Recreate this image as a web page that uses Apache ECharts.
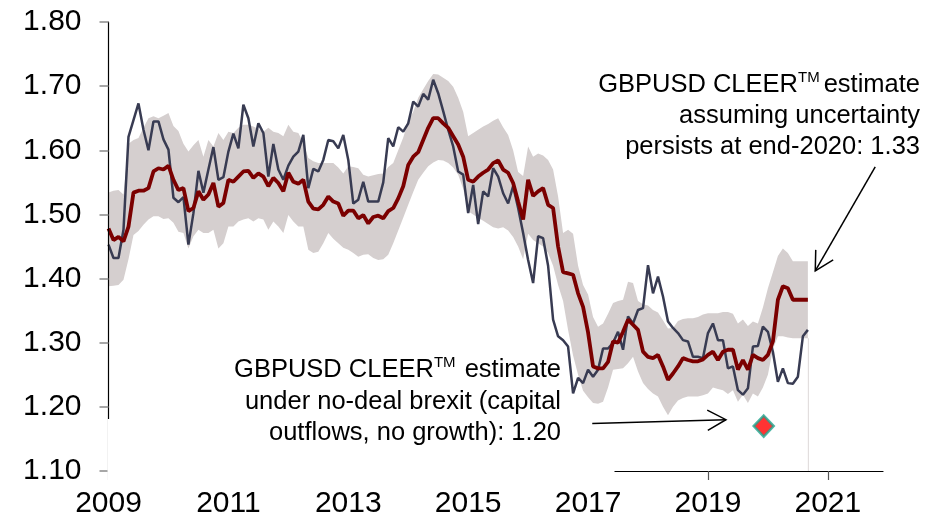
<!DOCTYPE html>
<html>
<head>
<meta charset="utf-8">
<script src="https://cdn.jsdelivr.net/npm/echarts@6/dist/echarts.min.js"></script>
<style>
html,body{margin:0;padding:0;background:#fff}
#main{width:944px;height:523px}
</style>
</head>
<body>
<div id="main"></div>
<script>
// monthly points, Jan 2009 .. Sep 2020
var startYear = 2009;

// GBPUSD spot
var spot = [
  1.453,1.432,1.432,1.476,1.621,1.647,1.673,1.632,1.600,1.645,
  1.645,1.617,1.601,1.526,1.519,1.527,1.453,1.502,1.568,1.534,
  1.570,1.605,1.554,1.558,1.598,1.626,1.603,1.671,1.650,1.606,
  1.642,1.627,1.559,1.610,1.570,1.554,1.576,1.590,1.598,1.624,
  1.541,1.571,1.567,1.585,1.616,1.614,1.603,1.624,1.585,1.517,
  1.523,1.551,1.520,1.520,1.520,1.550,1.619,1.606,1.636,1.629,
  1.642,1.676,1.668,1.688,1.679,1.710,1.689,1.661,1.632,1.606,
  1.567,1.562,1.502,1.546,1.485,1.536,1.528,1.572,1.559,1.533,
  1.517,1.544,1.510,1.471,1.429,1.393,1.466,1.463,1.420,1.336,
  1.310,1.304,1.294,1.221,1.245,1.237,1.258,1.247,1.258,1.291,
  1.291,1.300,1.317,1.289,1.341,1.330,1.351,1.354,1.421,1.377,
  1.403,1.372,1.333,1.323,1.315,1.304,1.302,1.278,1.278,1.276,
  1.315,1.330,1.304,1.304,1.260,1.263,1.226,1.219,1.229,1.294,
  1.295,1.325,1.317,1.286,1.239,1.260,1.237,1.236,1.247,1.310,
  1.320
];

// CLEER estimate
var cleer = [
  1.478,1.460,1.465,1.458,1.481,1.534,1.537,1.537,1.541,1.567,
  1.572,1.570,1.576,1.554,1.538,1.541,1.505,1.510,1.536,1.523,
  1.531,1.549,1.512,1.518,1.554,1.551,1.559,1.567,1.568,1.557,
  1.564,1.559,1.544,1.557,1.549,1.536,1.565,1.551,1.548,1.554,
  1.520,1.509,1.508,1.515,1.528,1.520,1.517,1.498,1.506,1.506,
  1.494,1.499,1.486,1.496,1.498,1.494,1.505,1.510,1.525,1.544,
  1.577,1.590,1.597,1.616,1.635,1.650,1.650,1.642,1.635,1.622,
  1.609,1.590,1.554,1.551,1.559,1.565,1.570,1.580,1.584,1.570,
  1.565,1.549,1.520,1.492,1.554,1.529,1.536,1.541,1.515,1.510,
  1.450,1.410,1.408,1.406,1.377,1.356,1.316,1.263,1.260,1.260,
  1.270,1.302,1.300,1.317,1.336,1.328,1.320,1.286,1.278,1.276,
  1.281,1.263,1.242,1.252,1.263,1.276,1.273,1.271,1.271,1.274,
  1.281,1.286,1.273,1.286,1.289,1.289,1.258,1.273,1.258,1.281,
  1.276,1.273,1.281,1.302,1.367,1.388,1.385,1.367,1.367,1.367,
  1.367
];

// uncertainty band
var bandHigh = [
  1.534,1.537,1.538,1.531,1.610,1.616,1.619,1.635,1.650,1.653,
  1.650,1.654,1.658,1.638,1.630,1.610,1.598,1.608,1.616,1.590,
  1.616,1.606,1.627,1.616,1.629,1.627,1.635,1.640,1.640,1.637,
  1.633,1.629,1.635,1.629,1.627,1.622,1.640,1.629,1.627,1.612,
  1.588,1.583,1.580,1.580,1.580,1.580,1.573,1.564,1.575,1.574,
  1.572,1.562,1.559,1.561,1.563,1.564,1.574,1.580,1.600,1.620,
  1.645,1.660,1.682,1.695,1.708,1.719,1.718,1.713,1.708,1.699,
  1.682,1.660,1.622,1.627,1.632,1.637,1.641,1.646,1.650,1.636,
  1.624,1.600,1.566,1.560,1.606,1.590,1.595,1.592,1.585,1.570,
  1.528,1.471,1.476,1.470,1.420,1.390,1.375,1.340,1.325,1.330,
  1.345,1.362,1.365,1.367,1.395,1.393,1.365,1.360,1.358,1.351,
  1.347,1.335,1.322,1.323,1.334,1.337,1.338,1.338,1.340,1.344,
  1.346,1.346,1.346,1.348,1.348,1.345,1.330,1.336,1.326,1.333,
  1.330,1.355,1.385,1.410,1.435,1.447,1.440,1.427,1.427,1.427,
  1.427
];
var bandLow = [
  1.388,1.389,1.390,1.398,1.430,1.468,1.474,1.484,1.492,1.497,
  1.497,1.493,1.494,1.487,1.473,1.471,1.447,1.466,1.476,1.471,
  1.471,1.476,1.447,1.455,1.481,1.481,1.489,1.492,1.494,1.489,
  1.494,1.492,1.476,1.489,1.481,1.471,1.499,1.489,1.481,1.481,
  1.445,1.440,1.442,1.455,1.471,1.462,1.455,1.448,1.445,1.440,
  1.434,1.437,1.438,1.432,1.429,1.430,1.437,1.455,1.475,1.495,
  1.515,1.535,1.554,1.565,1.575,1.581,1.585,1.584,1.580,1.573,
  1.562,1.540,1.505,1.500,1.495,1.490,1.485,1.480,1.478,1.480,
  1.475,1.465,1.450,1.430,1.470,1.460,1.455,1.450,1.440,1.420,
  1.390,1.365,1.320,1.280,1.250,1.225,1.215,1.206,1.205,1.208,
  1.230,1.258,1.259,1.260,1.268,1.278,1.255,1.237,1.228,1.221,
  1.216,1.200,1.187,1.200,1.210,1.214,1.216,1.216,1.216,1.218,
  1.221,1.230,1.228,1.226,1.220,1.226,1.208,1.219,1.206,1.221,
  1.216,1.230,1.250,1.290,1.310,1.310,1.308,1.307,1.307,1.307,
  1.307
];

// no-deal brexit estimate marker
var noDeal = [2019.93, 1.17];

var xTicks = [2009, 2011, 2013, 2015, 2017, 2019, 2021];

// annotation arrows, [from, to] in data units
var arrowTop = [[2021.79, 1.574], [2020.79, 1.412]];
var arrowBottom = [[2017.07, 1.174], [2019.30, 1.180]];

var font = '"Liberation Sans", Arial, sans-serif';

function toPairs(arr) {
  return arr.map(function (v, i) { return [startYear + i / 12, v]; });
}
var lastX = startYear + (spot.length - 1) / 12;

var chart = echarts.init(document.getElementById('main'));
chart.setOption({
  animation: false,
  grid: { left: 108.5, right: 61, top: 22, bottom: 52 },
  xAxis: {
    type: 'value',
    min: 2009,
    max: 2021.92,
    z: 10,
    axisLine: { lineStyle: { color: '#000', width: 1.2 } },
    axisTick: { customValues: xTicks, length: 9, lineStyle: { color: '#555', width: 1.2 } },
    axisLabel: {
      customValues: xTicks, fontSize: 30, color: '#000', margin: 18, fontFamily: font,
      formatter: function (v) { return String(Math.round(v)); }
    },
    splitLine: { show: false }
  },
  yAxis: {
    type: 'value',
    min: 1.1,
    max: 1.8,
    interval: 0.1,
    z: 10,
    axisLine: { show: true, lineStyle: { color: '#000', width: 1.2 } },
    axisTick: { show: true, length: 9, lineStyle: { color: '#8a8a8a', width: 1.5 } },
    axisLabel: {
      fontSize: 30, color: '#000', margin: 27, fontFamily: font,
      formatter: function (v) { return v.toFixed(2); }
    },
    splitLine: { show: false }
  },
  series: [
    {
      // band top, filled down to the axis
      type: 'line', data: toPairs(bandHigh), symbol: 'none', silent: true, z: 1,
      lineStyle: { width: 0, opacity: 0 },
      areaStyle: { color: '#d5cfcf', opacity: 1, origin: 'start' }
    },
    {
      // band bottom, white fill below it
      type: 'line', data: toPairs(bandLow), symbol: 'none', silent: true, z: 2,
      lineStyle: { width: 0, opacity: 0 },
      areaStyle: { color: '#ffffff', opacity: 1, origin: 'start' }
    },
    {
      name: 'GBPUSD', type: 'line', data: toPairs(spot), symbol: 'none',
      lineStyle: { color: '#383b52', width: 2.5 }, z: 3,
      markLine: {
        silent: true, symbol: 'none', label: { show: false },
        lineStyle: { color: '#e2dede', width: 1, type: 'solid' },
        data: [[{ coord: [lastX, 1.1] }, { coord: [lastX, bandLow[bandLow.length - 1]] }]]
      }
    },
    {
      name: 'CLEER', type: 'line', data: toPairs(cleer), symbol: 'none',
      lineStyle: { color: '#7b0000', width: 3.8 }, z: 4
    },
    {
      type: 'scatter', data: [noDeal], symbol: 'diamond', symbolSize: [20, 21],
      itemStyle: { color: '#ff0000', borderColor: '#1fa58f', borderWidth: 2.5 }, z: 5
    }
  ]
});

function arrow(seg) {
  var a = chart.convertToPixel({ gridIndex: 0 }, seg[0]);
  var b = chart.convertToPixel({ gridIndex: 0 }, seg[1]);
  var ang = Math.atan2(a[1] - b[1], a[0] - b[0]);
  var len = 21, spread = 0.5;
  var h1 = [b[0] + len * Math.cos(ang + spread), b[1] + len * Math.sin(ang + spread)];
  var h2 = [b[0] + len * Math.cos(ang - spread), b[1] + len * Math.sin(ang - spread)];
  return [
    { type: 'line', z: 120, shape: { x1: a[0], y1: a[1], x2: b[0], y2: b[1] },
      style: { stroke: '#000', lineWidth: 1.5 } },
    { type: 'polyline', z: 120, shape: { points: [h1, b, h2] },
      style: { stroke: '#000', lineWidth: 1.5, fill: null } }
  ];
}

function note(x, y, txt, gap) {
  return {
    type: 'text', x: x, y: y, z: 110,
    style: {
      text: txt, align: 'right', verticalAlign: 'middle', fill: '#000',
      font: '25.5px ' + font,
      rich: {
        a: { fontSize: 25.5, fontFamily: font, lineHeight: 30, verticalAlign: 'middle' },
        s: { fontSize: 15, fontFamily: font, lineHeight: 15, verticalAlign: 'top', padding: [0, gap || 0, 0, 0] }
      }
    }
  };
}

var graphics = [
  // white box of the lower annotation hides that part of the axes
  { type: 'rect', z: 100, shape: { x: 107.5, y: 419, width: 507, height: 66 }, style: { fill: '#fff' } },
  note(920, 85, '{a|GBPUSD CLEER}{s|TM}{a|estimate}', 4),
  note(920, 116, 'assuming uncertainty'),
  note(920, 147, 'persists at end-2020: 1.33'),
  note(561, 370, '{a|GBPUSD CLEER}{s|TM}{a| estimate}', 2),
  note(561, 401.5, 'under no-deal brexit (capital'),
  note(561, 433, 'outflows, no growth): 1.20')
].concat(arrow(arrowTop), arrow(arrowBottom));

chart.setOption({ graphic: graphics });
</script>
</body>
</html>
